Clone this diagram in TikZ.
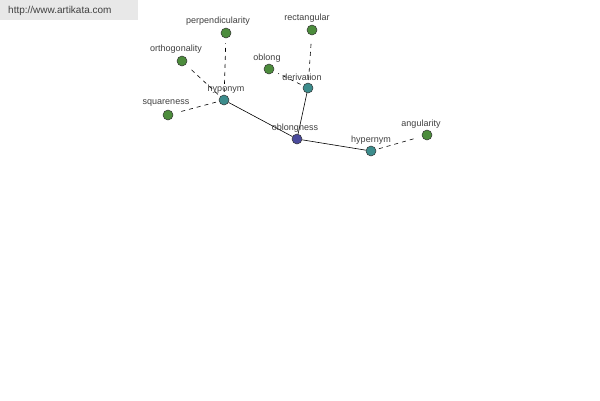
\documentclass[tikz,border=0pt]{standalone}
\usepackage{fontspec}
\setmainfont{Liberation Sans}
\definecolor{gnode}{HTML}{4C8C3C}
\definecolor{tnode}{HTML}{3C8C8C}
\definecolor{bnode}{HTML}{4A4A9C}
\definecolor{lbl}{HTML}{404040}
\definecolor{hdr}{HTML}{E8E8E8}
\begin{document}
\begin{tikzpicture}[x=1pt,y=-1pt,
  dot/.style={circle,draw=black!80,line width=0.5pt,minimum size=10pt,inner sep=0pt},
  gdot/.style={dot,fill=gnode},
  tdot/.style={dot,fill=tnode},
  bdot/.style={dot,fill=bnode},
  lab/.style={font=\fontsize{9}{10}\selectfont,text=lbl,inner sep=0pt},
  solidedge/.style={draw=black,line width=0.6pt},
  dashedge/.style={draw=black,line width=0.6pt,dashed,dash pattern=on 4pt off 4pt,shorten <=3pt,shorten >=5pt}]
\useasboundingbox (0,0) rectangle (600,400);
\fill[white] (0,0) rectangle (600,400);
\fill[hdr] (0,0) rectangle (138,20);
\node[font=\fontsize{10}{11}\selectfont,text=lbl,anchor=west,inner sep=0pt] (url) at (8,11) {http://www.artikata.com};
% nodes
\node[bdot] (oblongness) at (297,139) {};
\node[tdot] (hyponym) at (224,100) {};
\node[tdot] (derivation) at (308,88) {};
\node[tdot] (hypernym) at (371,151) {};
\node[gdot] (perp) at (226,33) {};
\node[gdot] (orth) at (182,61) {};
\node[gdot] (square) at (168,115) {};
\node[gdot] (rect) at (312,30) {};
\node[gdot] (oblong) at (269,69) {};
\node[gdot] (angul) at (427,135) {};
% edges
\draw[solidedge] (oblongness) -- (hyponym);
\draw[solidedge] (oblongness) -- (derivation);
\draw[solidedge] (oblongness) -- (hypernym);
\draw[dashedge] (hyponym) -- (perp);
\draw[dashedge] (hyponym) -- (orth);
\draw[dashedge] (hyponym) -- (square);
\draw[dashedge] (derivation) -- (rect);
\draw[dashedge] (derivation) -- (oblong);
\draw[dashedge] (hypernym) -- (angul);
% labels
\node[lab] (l1) at (295,128) {oblongness};
\node[lab] (l2) at (226,89) {hyponym};
\node[lab] (l3) at (302,77) {derivation};
\node[lab] (l4) at (371,140) {hypernym};
\node[lab] (l5) at (218,21) {perpendicularity};
\node[lab] (l6) at (176,49) {orthogonality};
\node[lab] (l7) at (166,103) {squareness};
\node[lab] (l8) at (307,18) {rectangular};
\node[lab] (l9) at (267,58) {oblong};
\node[lab] (l10) at (421,124) {angularity};
\end{tikzpicture}
\end{document}
